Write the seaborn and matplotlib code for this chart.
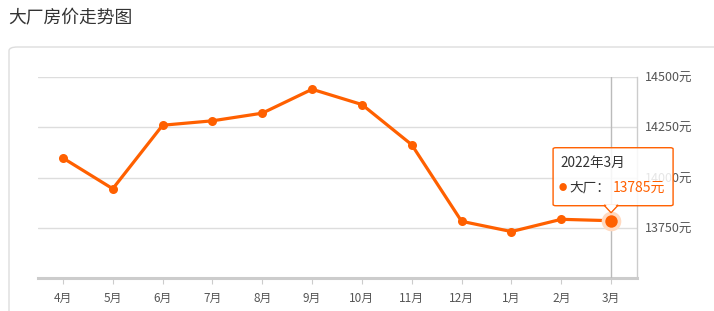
import matplotlib
matplotlib.use("Agg")
import matplotlib.pyplot as plt
import seaborn as sns
import pandas as pd
from matplotlib.patches import FancyBboxPatch, Polygon

title = "大厂房价走势图"
months = ["4月", "5月", "6月", "7月", "8月", "9月", "10月", "11月", "12月", "1月", "2月", "3月"]
prices = [14097, 13944, 14260, 14282, 14320, 14439, 14363, 14163, 13782, 13731, 13792, 13785]
yticks = [13750, 14000, 14250, 14500]
ytick_labels = ["13750元", "14000元", "14250元", "14500元"]
tooltip_title = "2022年3月"
series_name = "大厂"

ORANGE = "#ff6000"

sns.set_theme(style="white")
plt.rcParams["font.family"] = ["Noto Sans CJK SC", "DejaVu Sans"]

df = pd.DataFrame({"month": months, "price": prices})

fig = plt.figure(figsize=(7.14, 3.11), dpi=100)
W, H = 714, 311

# outer frame
frame = FancyBboxPatch((9 / W, -0.1), 1.2, (311 - 47) / H + 0.1,
                       boxstyle="round,pad=0,rounding_size=0.012",
                       transform=fig.transFigure, facecolor="none",
                       edgecolor="#dddddd", linewidth=1.0, zorder=-5)
fig.patches.append(frame)

fig.text(8 / W, 1 - 18 / H, title, fontsize=12.8, color="#333333", va="center", ha="left")

ax = fig.add_axes([38 / W, (311 - 278) / H, (637 - 38) / W, (278 - 77) / H])
ax.set_facecolor("none")

sns.lineplot(data=df, x="month", y="price", ax=ax, color=ORANGE, linewidth=2.3,
             marker="o", markersize=6.5, markeredgewidth=0, sort=False, zorder=5)

ax.set_xlim(-0.5, len(months) - 0.48)
ax.set_ylim(13500, 14500)
ax.set_yticks(yticks)
ax.set_yticklabels(ytick_labels)
ax.yaxis.tick_right()
ax.tick_params(axis="y", length=0, pad=6, labelsize=9, labelcolor="#555555")
ax.tick_params(axis="x", length=4, width=0.8, color="#cccccc", direction="out",
               pad=6, labelsize=8.5, labelcolor="#555555", bottom=True)
ax.set_xlabel("")
ax.set_ylabel("")
ax.grid(axis="y", color="#dddddd", linewidth=1.0)
ax.grid(axis="x", visible=False)
for s in ["top", "left"]:
    ax.spines[s].set_visible(False)
ax.spines["bottom"].set_color("#cccccc")
ax.spines["bottom"].set_linewidth(2.2)
ax.spines["right"].set_color("#cccccc")
ax.spines["right"].set_linewidth(1.0)

# crosshair at last point
last_i = len(months) - 1
ax.axvline(last_i, color="#bbbbbb", linewidth=1.0, zorder=3)

# highlighted last point
ax.scatter([last_i], [prices[-1]], s=200, color="#ffd9c0", zorder=6, linewidths=0)
ax.scatter([last_i], [prices[-1]], s=80, color=ORANGE, zorder=7, linewidths=0)

# tooltip anchored to the last point (pixel offsets)
pt = ax.transData.transform((last_i, prices[-1]))
inv = fig.transFigure.inverted()
def fig_xy(dx, dy):
    return inv.transform((pt[0] + dx, pt[1] + dy))

box_w, box_h = 120, 58
bx, by = -58, 15
x0, y0 = fig_xy(bx, by)
x1, y1 = fig_xy(bx + box_w, by + box_h)
box = FancyBboxPatch((x0, y0), x1 - x0, y1 - y0,
                     boxstyle="round,pad=0,rounding_size=0.004",
                     transform=fig.transFigure, facecolor=(1, 1, 1, 0.86),
                     edgecolor=ORANGE, linewidth=1.0, zorder=10)
fig.patches.append(box)
tri = Polygon([fig_xy(-7, by + 0.5), fig_xy(7, by + 0.5), fig_xy(0, 8)], closed=True,
              transform=fig.transFigure, facecolor="white", edgecolor=ORANGE,
              linewidth=1.0, zorder=11)
fig.patches.append(tri)
cover = Polygon([fig_xy(-6, by + 1.5), fig_xy(6, by + 1.5), fig_xy(0, 9.5)], closed=True,
                transform=fig.transFigure, facecolor="white", edgecolor="none", zorder=12)
fig.patches.append(cover)

tx, ty = fig_xy(bx + 7, by + 43)
fig.text(tx, ty, tooltip_title, fontsize=9.8, color="#333333", va="center", ha="left", zorder=13)
bx2, by2 = fig_xy(bx + 10, by + 18)
fig.text(bx2, by2, "●", fontsize=6, color=ORANGE, va="center", ha="center", zorder=13)
nx, ny = fig_xy(bx + 16, by + 18)
fig.text(nx, ny, series_name + "：", fontsize=9.8, color="#333333", va="center", ha="left", zorder=13)
vx, vy = fig_xy(bx + 60, by + 18)
fig.text(vx, vy, f"{prices[-1]}元", fontsize=10, color=ORANGE, va="center", ha="left", zorder=13)

fig.savefig("out.png", dpi=100)
